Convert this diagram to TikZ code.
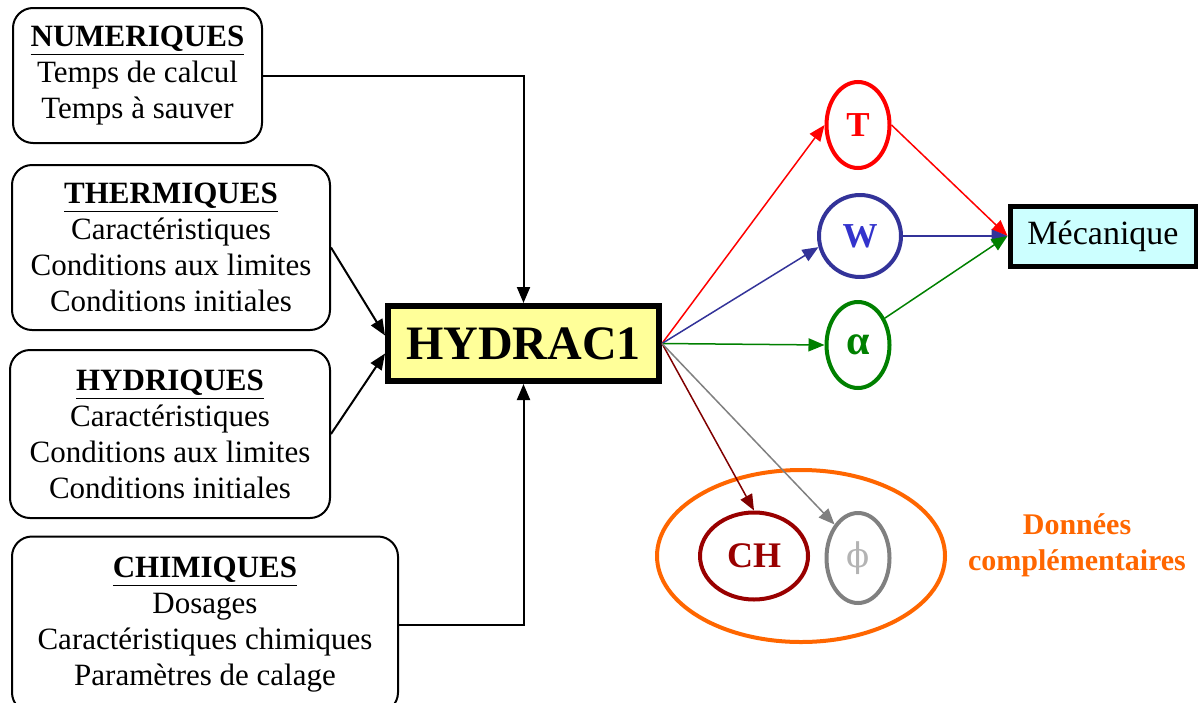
\documentclass[tikz,border=0pt]{standalone}
\usepackage{fontspec}
\setmainfont{Liberation Serif}
\newfontfamily\greekfont{DejaVu Serif}
\usepackage{xcolor}
\usetikzlibrary{positioning, calc, arrows.meta, shapes.geometric}

\definecolor{hydfill}{HTML}{FFFF99}
\definecolor{mecafill}{HTML}{CCFFFF}
\definecolor{tred}{HTML}{FF0000}
\definecolor{wblue}{HTML}{333399}
\definecolor{wtext}{HTML}{3333CC}
\definecolor{agreen}{HTML}{008000}
\definecolor{chred}{HTML}{990000}
\definecolor{charrow}{HTML}{800000}
\definecolor{phigray}{HTML}{808080}
\definecolor{phitext}{HTML}{B3B3B3}
\definecolor{donorange}{HTML}{FF6600}

\begin{document}
\begin{tikzpicture}[x=0.5pt, y=-0.5pt, >={Triangle[length=8pt,width=6.5pt]},
    inbox/.style={draw, line width=1pt, rounded corners=10pt, align=center, inner sep=0pt,
        font=\fontsize{15.5}{18}\selectfont},
    var/.style={ellipse, draw, line width=2pt, inner sep=0pt,
        font=\fontsize{17.5}{19}\selectfont\bfseries},
    link/.style={->, line width=0.75pt}]
    \useasboundingbox (0,0) rectangle (1198,702);

    % Input data boxes
    \node[inbox, minimum width=124.5pt, minimum height=67.5pt] (num) at (137.5,75.5)
        {\underline{\textbf{NUMERIQUES}}\\Temps de calcul\\Temps à sauver};
    \node[inbox, minimum width=159pt, minimum height=82.5pt] (therm) at (171,247.5)
        {\underline{\textbf{THERMIQUES}}\\Caractéristiques\\Conditions aux limites\\Conditions initiales};
    \node[inbox, minimum width=160pt, minimum height=84pt] (hydr) at (170,434)
        {\underline{\textbf{HYDRIQUES}}\\Caractéristiques\\Conditions aux limites\\Conditions initiales};
    \node[inbox, minimum width=193pt, minimum height=88pt] (chim) at (205,624.5)
        {\underline{\textbf{CHIMIQUES}}\\Dosages\\Caractéristiques chimiques\\Paramètres de calage};

    % Code
    \node[draw, line width=3pt, fill=hydfill, minimum width=135.5pt, minimum height=37.5pt,
        inner sep=0pt, font=\fontsize{24}{26}\selectfont\bfseries] (hyd) at (523.5,343.5) {HYDRAC1};

    % Outputs
    \node[var, draw=tred, text=tred, minimum width=31.5pt, minimum height=43pt] (T) at (858,125) {T};
    \node[var, draw=wblue, text=wtext, minimum width=41pt, minimum height=41pt] (W) at (860,236) {W};
    \node[var, draw=agreen, text=agreen, minimum width=31.5pt, minimum height=43pt,
        font=\fontsize{21}{22}\selectfont\bfseries] (alpha) at (858,345) {α};
    \node[draw, line width=2.5pt, fill=mecafill, minimum width=93pt, minimum height=30pt,
        inner sep=0pt, font=\fontsize{17}{19}\selectfont] (meca) at (1103,236) {Mécanique};

    % Complementary data
    \node[ellipse, draw=donorange, line width=2pt, minimum width=144pt, minimum height=86pt] (comp) at (801,556) {};
    \node[var, draw=chred, text=chred, minimum width=54pt, minimum height=43.5pt,
        font=\fontsize{18}{19}\selectfont\bfseries] (CH) at (754,556) {CH};
    \node[var, draw=phigray, text=phitext, minimum width=31.5pt, minimum height=45pt,
        font=\fontsize{17}{19}\greekfont] (phi) at (858,558) {ϕ};
    \node[align=center, text=donorange, font=\fontsize{15}{18}\selectfont\bfseries] (don) at (1077,545)
        {Données\\complémentaires};

    % Inputs to HYDRAC1
    \draw[->, line width=1pt] (num.east) -| (hyd.north);
    \draw[->, line width=1pt] (chim.east) -| (hyd.south);
    \draw[->, line width=1pt] (therm.east) -- ($(hyd.west)+(0,-8)$);
    \draw[->, line width=1pt] (hydr.east) -- ($(hyd.west)+(0,10)$);

    % HYDRAC1 to outputs
    \draw[link, tred] (hyd.east) -- (T.west);
    \draw[link, wblue] (hyd.east) -- (W.195);
    \draw[link, agreen] (hyd.east) -- (alpha.west);
    \draw[link, charrow] (hyd.east) -- (CH.north);
    \draw[link, phigray] (hyd.east) -- (phi.125);

    % Outputs to Mecanique
    \draw[link, tred] (T.east) -- (meca.west);
    \draw[link, wblue] (W.east) -- (meca.west);
    \draw[link, agreen] (alpha.45) -- (meca.west);
\end{tikzpicture}
\end{document}
